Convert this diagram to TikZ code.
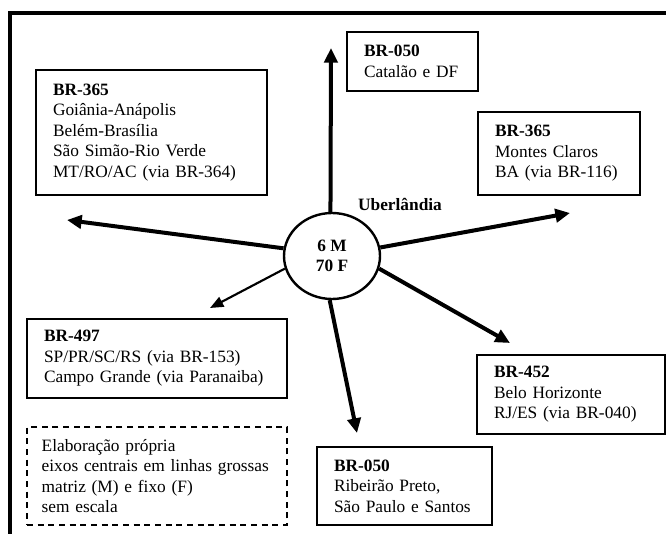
\documentclass[tikz,border=0pt]{standalone}
\usepackage{fontspec}
\setmainfont{Liberation Serif}
\usetikzlibrary{arrows.meta}
\usetikzlibrary{shapes.geometric}

\begin{document}
\begin{tikzpicture}[x=0.75pt,y=-0.75pt,
  font=\fontsize{13}{15.3}\selectfont,
  roadbox/.style={draw,line width=1.2pt,align=left,inner xsep=12.75pt,inner ysep=0pt},
  route/.style={line width=3pt,-{Triangle[length=11pt,width=10pt]}},
  thinroute/.style={line width=1.6pt,-{Triangle[length=10pt,width=8pt]}}]
\useasboundingbox (0,0) rectangle (666,534);
\draw[line width=2.4pt] (10,534) -- (10,13) -- (666,13);
\node[ellipse,draw,line width=1.8pt,minimum width=72pt,minimum height=64.5pt,inner sep=0pt,align=center,font=\fontsize{13}{15}\selectfont\bfseries] (hub) at (332,256) {6 M\\70 F};
\node[font=\fontsize{13}{15}\selectfont\bfseries] (city) at (400,204) {Uberlândia};
\node[roadbox,text width=147.75pt,minimum height=93.75pt] (BR365_W) at (151.5,132.5) {\textbf{BR-365}\\Goiânia-Anápolis\\Belém-Brasília\\São Simão-Rio Verde\\MT/RO/AC (via BR-364)};
\node[roadbox,text width=72.75pt,minimum height=44.25pt] (BR050_N) at (412.5,61.5) {\textbf{BR-050}\\Catalão e DF};
\node[roadbox,text width=96pt,minimum height=62.25pt] (BR365_E) at (559,153.5) {\textbf{BR-365}\\Montes Claros\\BA (via BR-116)};
\node[roadbox,text width=169.5pt,minimum height=59.25pt] (BR497) at (157,358.5) {\textbf{BR-497}\\SP/PR/SC/RS (via BR-153)\\Campo Grande (via Paranaiba)};
\node[roadbox,dash pattern=on 4.5pt off 3.5pt,inner xsep=11pt,text width=173pt,minimum height=73.5pt] (legend) at (157,476) {Elaboração própria\\eixos centrais em linhas grossas\\matriz (M) e fixo (F)\\sem escala};
\node[roadbox,text width=115.5pt,minimum height=59.25pt] (BR452) at (571,394.5) {\textbf{BR-452}\\Belo Horizonte\\RJ/ES (via BR-040)};
\node[roadbox,text width=105.75pt,minimum height=58.5pt] (BR050_S) at (404.5,486) {\textbf{BR-050}\\Ribeirão Preto,\\São Paulo e Santos};
\coordinate (tN) at (331,48);
\coordinate (tW) at (67,220);
\coordinate (tNE) at (570,213);
\coordinate (tSW) at (210,308);
\coordinate (tS) at (357,433);
\coordinate (tSE) at (510,343);
\draw[route] (hub.92) -- (tN);
\draw[route] (hub.171) -- (tW);
\draw[route] (hub.10) -- (tNE);
\draw[thinroute] (hub.195) -- (tSW);
\draw[route] (hub.267) -- (tS);
\draw[route] (hub.345) -- (tSE);
\end{tikzpicture}
\end{document}
